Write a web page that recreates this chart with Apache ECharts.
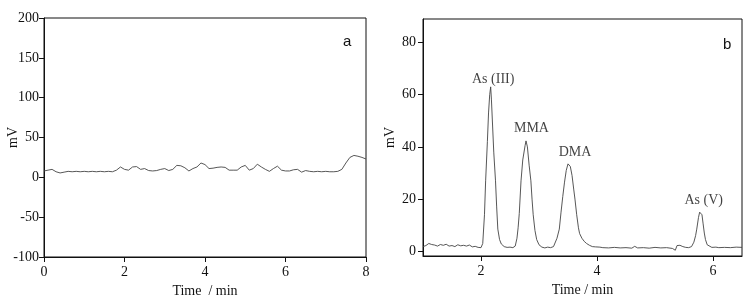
<!DOCTYPE html>
<html>
<head>
<meta charset="utf-8">
<script src="https://cdn.jsdelivr.net/npm/echarts@6/dist/echarts.min.js"></script>
<style>
  html, body { margin: 0; padding: 0; background: #fff; }
  #chart { width: 751px; height: 303px; }
</style>
</head>
<body>
<div id="chart"></div>
<script>
// panel a: blank run
const timeA = [0.0, 0.1, 0.2, 0.3, 0.4, 0.5, 0.6, 0.7, 0.8, 0.9,
  1.0, 1.1, 1.2, 1.3, 1.4, 1.5, 1.6, 1.7, 1.8, 1.9,
  2.0, 2.1, 2.2, 2.3, 2.4, 2.5, 2.6, 2.7, 2.8, 2.9,
  3.0, 3.1, 3.2, 3.3, 3.4, 3.5, 3.6, 3.7, 3.8, 3.9,
  4.0, 4.1, 4.2, 4.3, 4.4, 4.5, 4.6, 4.7, 4.8, 4.9,
  5.0, 5.1, 5.2, 5.3, 5.4, 5.5, 5.6, 5.7, 5.8, 5.9,
  6.0, 6.1, 6.2, 6.3, 6.4, 6.5, 6.6, 6.7, 6.8, 6.9,
  7.0, 7.1, 7.2, 7.3, 7.4, 7.5, 7.6, 7.7, 7.8, 7.9, 8.0]
const mvA = [8, 9, 10, 7, 5.5, 6.5, 7.5, 7, 7.5, 7,
  7.5, 7, 7.5, 7, 7.5, 7, 7.5, 7, 9, 13,
  10, 9, 13, 13.5, 10, 11, 8.5, 8, 8.5, 10,
  11, 8.5, 10, 15, 14.5, 12, 8, 11, 13, 18,
  16, 11, 11.5, 12.5, 13, 12.5, 9, 9, 9, 13,
  15, 9, 11, 16.5, 13, 10, 7.5, 11, 14, 9,
  8, 8, 9.5, 10, 6.5, 8.5, 7.5, 7, 7.5, 7,
  7.5, 7, 7, 7.5, 10, 18, 25, 27.5, 26.5, 25, 23]

// panel b: standard mixture
const timeB = [1.00, 1.05, 1.10, 1.15, 1.20, 1.25, 1.30, 1.35, 1.40, 1.45,
  1.50, 1.55, 1.60, 1.65, 1.70, 1.75, 1.80, 1.85, 1.90, 1.95,
  2.00, 2.03, 2.06, 2.08, 2.11, 2.13, 2.15, 2.167, 2.18, 2.20,
  2.22, 2.25, 2.27, 2.29, 2.32, 2.35, 2.40, 2.45, 2.50, 2.55,
  2.59, 2.62, 2.64, 2.66, 2.69, 2.72, 2.76, 2.776, 2.80, 2.83,
  2.86, 2.88, 2.90, 2.93, 2.96, 3.00, 3.05, 3.10, 3.15, 3.20,
  3.25, 3.28, 3.31, 3.35, 3.38, 3.41, 3.44, 3.47, 3.50, 3.52,
  3.54, 3.57, 3.60, 3.62, 3.65, 3.68, 3.70, 3.74, 3.78, 3.82,
  3.87, 3.92, 3.97, 4.00, 4.05, 4.10, 4.20, 4.30, 4.40, 4.50,
  4.60, 4.65, 4.70, 4.80, 4.90, 5.00, 5.10, 5.20, 5.30, 5.35,
  5.38, 5.43, 5.48, 5.53, 5.58, 5.63, 5.67, 5.70, 5.72, 5.75,
  5.77, 5.79, 5.81, 5.83, 5.85, 5.87, 5.90, 5.93, 5.98, 6.05,
  6.10, 6.20, 6.30, 6.40, 6.50]
const mvB = [1.8, 2.2, 3.0, 2.6, 2.4, 2.0, 2.6, 2.3, 2.7, 2.0,
  2.2, 1.8, 2.5, 2.1, 2.3, 2.0, 2.4, 1.7, 1.9, 1.5,
  1.4, 3, 14, 27, 42, 53, 60, 63, 58, 48,
  38, 27, 17, 8.5, 4.5, 2.8, 1.8, 1.5, 1.6, 1.4,
  2.0, 5, 9, 14.5, 27, 35, 40.5, 42.3, 40, 33,
  27, 20, 14, 8, 4.5, 2.5, 1.6, 1.3, 1.6, 1.4,
  1.8, 2.5, 5, 8.5, 15, 21, 26.5, 31, 33.5, 33.7,
  32.5, 29, 23.5, 20, 14, 9, 6.8, 5, 3.8, 3,
  2.3, 1.8, 1.7, 1.9, 1.6, 1.4, 1.3, 1.5, 1.3, 1.4,
  1.2, 1.9, 1.3, 1.4, 1.2, 1.5, 1.3, 1.4, 1.1, 0.4,
  2.2, 2.3, 1.8, 1.5, 1.4, 1.8, 3.5, 6, 8.5, 13,
  15, 15.4, 14, 10.5, 7, 4.5, 2.5, 1.8, 1.5, 1.6,
  1.4, 1.5, 1.4, 1.6, 1.5]

// peak labels (anchor = label centre, in data units)
const peakNames = ['As (III)', 'MMA', 'DMA', 'As (V)']
const peakLabelX = [2.21, 2.87, 3.62, 5.84]
const peakLabelY = [66, 47.3, 38.1, 19.6]

const yTicksB = [0, 20, 40, 60, 80]
const xTicksB = [2, 4, 6]

const serif = '"Liberation Serif", "Times New Roman", serif'
const ink = '#111'
const lineInk = '#444'

function axisBase() {
  return {
    axisLine: { show: true, onZero: false, lineStyle: { color: ink, width: 1 } },
    axisTick: { show: true, inside: false, length: 5, lineStyle: { color: ink } },
    axisLabel: { color: ink, fontFamily: serif, fontSize: 14 },
    splitLine: { show: false },
    nameLocation: 'middle',
    nameMoveOverlap: false,
    nameTextStyle: { color: ink, fontFamily: serif, fontSize: 14 }
  }
}

const chart = echarts.init(document.getElementById('chart'), null, { renderer: 'canvas' })

const option = {
  animation: false,
  backgroundColor: '#fff',
  grid: [
    { left: 44, top: 18, right: 385, bottom: 46, show: true, borderColor: ink, borderWidth: 1, backgroundColor: 'transparent' },
    { left: 423, top: 19, right: 9, bottom: 47, show: true, borderColor: ink, borderWidth: 1, backgroundColor: 'transparent' }
  ],
  xAxis: [
    Object.assign(axisBase(), {
      gridIndex: 0, type: 'value', min: 0, max: 8, interval: 2,
      name: 'Time  / min', nameGap: 27
    }),
    Object.assign(axisBase(), {
      gridIndex: 1, type: 'value', min: 1, max: 6.5,
      name: 'Time / min', nameGap: 27,
      axisTick: { show: true, inside: false, length: 5, lineStyle: { color: ink }, customValues: xTicksB },
      axisLabel: { color: ink, fontFamily: serif, fontSize: 14, customValues: xTicksB }
    })
  ],
  yAxis: [
    Object.assign(axisBase(), {
      gridIndex: 0, type: 'value', min: -100, max: 200, interval: 50,
      name: 'mV', nameGap: 24,
      axisLabel: { color: ink, fontFamily: serif, fontSize: 14, margin: 5 }
    }),
    Object.assign(axisBase(), {
      gridIndex: 1, type: 'value', min: -1.8, max: 89,
      name: 'mV', nameGap: 26,
      axisTick: { show: true, inside: false, length: 5, lineStyle: { color: ink }, customValues: yTicksB },
      axisLabel: { color: ink, fontFamily: serif, fontSize: 14, margin: 7, customValues: yTicksB }
    })
  ],
  graphic: [
    { type: 'text', left: 343, top: 34, style: { text: 'a', fill: ink, font: '15px "Liberation Sans", Arial, sans-serif' } },
    { type: 'text', left: 723, top: 37, style: { text: 'b', fill: ink, font: '15px "Liberation Sans", Arial, sans-serif' } }
  ],
  series: [
    {
      type: 'line', xAxisIndex: 0, yAxisIndex: 0,
      data: timeA.map((t, i) => [t, mvA[i]]),
      showSymbol: false, symbol: 'none',
      lineStyle: { color: lineInk, width: 0.9 }
    },
    {
      type: 'line', xAxisIndex: 1, yAxisIndex: 1,
      data: timeB.map((t, i) => [t, mvB[i]]),
      showSymbol: false, symbol: 'none',
      lineStyle: { color: lineInk, width: 0.9 }
    },
    {
      type: 'scatter', xAxisIndex: 1, yAxisIndex: 1,
      symbolSize: 0,
      data: peakNames.map((n, i) => ({ name: n, value: [peakLabelX[i], peakLabelY[i]] })),
      label: {
        show: true, position: 'inside', formatter: '{b}',
        color: ink, fontFamily: serif, fontSize: 14
      }
    }
  ]
}

chart.setOption(option)
</script>
</body>
</html>
